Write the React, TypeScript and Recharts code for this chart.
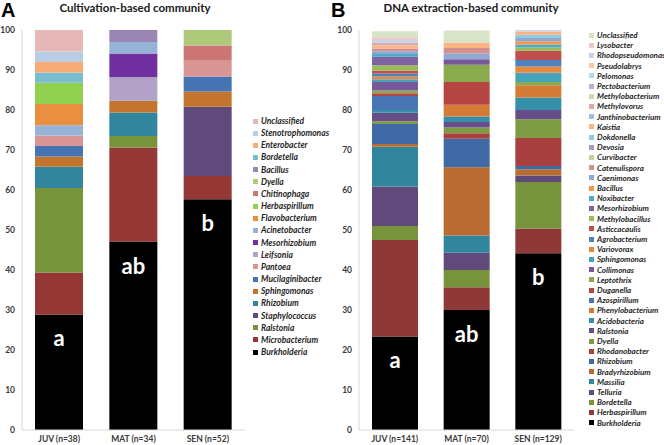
import React from 'react'
import { Bar, BarChart, LabelList, XAxis, YAxis } from 'recharts'

const font = 'Lato, "Open Sans", sans-serif'

// panel A - cultivation-based community
const cultStages = ['JUV (n=38)', 'MAT (n=34)', 'SEN (n=52)']
const cultLetters = ['a', 'ab', 'b']
const cultGenera = [
  'Burkholderia', 'Microbacterium', 'Ralstonia', 'Staphylococcus', 'Rhizobium', 'Sphingomonas',
  'Mucilaginibacter', 'Pantoea', 'Leifsonia', 'Mesorhizobium', 'Acinetobacter', 'Flavobacterium',
  'Herbaspirillum', 'Chitinophaga', 'Dyella', 'Bacillus', 'Bordetella', 'Enterobacter',
  'Stenotrophomonas', 'Unclassified',
]
const cultColors = [
  '#000000', '#953735', '#77933C', '#604A7B', '#31859C', '#C3752F',
  '#4674B2', '#D99694', '#B3A2C7', '#7030A0', '#95B3D7', '#E98F3F',
  '#92D050', '#CB7675', '#AFC97A', '#9A86B4', '#7BBDD0', '#F7AC78',
  '#B9CDE5', '#E6B9B8',
]
const cultJUV = [28.9, 10.5, 21.1, 0, 5.3, 2.6, 2.6, 2.6, 0, 0, 2.6, 5.3, 5.3, 0, 0, 0, 2.6, 2.6, 2.6, 5.4]
const cultMAT = [47.1, 23.5, 2.9, 0, 5.9, 2.9, 0, 0, 5.9, 5.9, 2.9, 0, 0, 0, 0, 3.0, 0, 0, 0, 0]
const cultSEN = [57.7, 5.8, 0, 17.3, 0, 3.8, 3.8, 3.9, 0, 0, 0, 0, 0, 3.8, 3.9, 0, 0, 0, 0, 0]

// panel B - DNA extraction-based community
const dnaStages = ['JUV (n=141)', 'MAT (n=70)', 'SEN (n=129)']
const dnaLetters = ['a', 'ab', 'b']
const dnaGenera = [
  'Burkholderia', 'Herbaspirillum', 'Bordetella', 'Telluria', 'Massilia', 'Bradyrhizobium',
  'Rhizobium', 'Rhodanobacter', 'Dyella', 'Ralstonia', 'Acidobacteria', 'Phenylobacterium',
  'Azospirillum', 'Duganella', 'Leptothrix', 'Collimonas', 'Sphingomonas', 'Variovorax',
  'Agrobacterium', 'Asticcacaulis', 'Methylobacillus', 'Mesorhizobium', 'Noxibacter', 'Bacillus',
  'Caenimonas', 'Catenulispora', 'Curvibacter', 'Devosia', 'Dokdonella', 'Kaistia',
  'Janthinobacterium', 'Methylovorus', 'Methylobacterium', 'Pectobacterium', 'Pelomonas',
  'Pseudolabrys', 'Rhodopseudomonas', 'Lysobacter', 'Unclassified',
]
const dnaColors = [
  '#000000', '#8E3937', '#77933C', '#5F4A7B', '#31859C', '#B86C32',
  '#3F6AA5', '#A8403F', '#7E9C44', '#684E88', '#358FA8', '#D47C36',
  '#4876B5', '#B34542', '#8AAA4E', '#77599A', '#45A3BE', '#E8883E',
  '#4F81BD', '#C0504D', '#9BBB59', '#8064A2', '#4BACC6', '#F79646',
  '#8FA9D4', '#D4908E', '#BDD39A', '#A998C2', '#8ECCDD', '#FBB584',
  '#A7BCDD', '#DBA9A8', '#CCDDB3', '#BCB0D0', '#B0DCE7', '#FAC8A7',
  '#C8D3E8', '#EBCACA', '#D8E4C8',
]
const dnaJUV = [
  23.4, 24.1, 3.5, 9.9, 9.9, 0.7, 5.0, 0, 0.7, 2.1, 0.7, 0, 3.5, 0.7, 0.7, 2.1, 0.7, 0.7,
  0.7, 0.7, 1.4, 2.1, 0.7, 0, 0.7, 0.7, 0, 0, 0, 0.7, 0, 0.7, 0, 0, 0, 0, 0.7, 0.7, 1.5,
]
const dnaMAT = [
  30.0, 5.7, 4.3, 4.3, 4.3, 17.1, 7.1, 1.4, 1.4, 1.4, 1.4, 2.9, 0, 5.7, 4.3, 1.4, 0, 0,
  0, 0, 0, 0, 0, 0, 1.4, 1.4, 0, 0, 0, 1.4, 0, 0, 0, 0, 0, 0, 0, 0, 3.0,
]
const dnaSEN = [
  44.2, 6.2, 11.6, 1.6, 0, 1.6, 0.8, 7.0, 4.7, 2.3, 3.1, 3.1, 0, 0, 0.8, 0, 2.3, 1.6,
  1.6, 2.3, 0.8, 0, 0.8, 0.8, 0.8, 0, 0, 0, 0.8, 0.8, 0, 0, 0, 0, 0, 0, 0.8, 0, 0,
]

const yTicks = [0, 10, 20, 30, 40, 50, 60, 70, 80, 90, 100]

function buildRows(stages: string[], letters: string[], genera: string[], series: number[][]) {
  return stages.map((stage, i) => {
    const row: Record<string, string | number> = { stage, letter: letters[i] }
    genera.forEach((g, j) => {
      row[g] = series[i][j]
    })
    return row
  })
}

function LetterLabel(props: any) {
  const { x, y, width, value } = props
  return (
    <text x={Number(x) + Number(width) / 2} y={Number(y) + 32} textAnchor='middle' fill='#ffffff'
      fontSize={22} fontWeight={700} fontFamily={font}>
      {value}
    </text>
  )
}

interface PanelProps {
  left: number
  width: number
  yAxisWidth: number
  rightMargin: number
  barSize: number
  rows: Record<string, string | number>[]
  genera: string[]
  colors: string[]
}

function StackPanel({ left, width, yAxisWidth, rightMargin, barSize, rows, genera, colors }: PanelProps) {
  const tickStyle = { fontSize: 8.5, fontWeight: 700, fill: '#3a3a3a', fontFamily: font }
  return (
    <div style={{ position: 'absolute', left, top: 0 }}>
      <BarChart width={width} height={445} data={rows} margin={{ top: 30, right: rightMargin, left: 0, bottom: 0 }}
        barSize={barSize}>
        <XAxis dataKey='stage' height={15} tickLine={false} tickSize={4} tickMargin={2}
          axisLine={{ stroke: '#d9d9d9' }} tick={tickStyle} interval={0} />
        <YAxis width={yAxisWidth} domain={[0, 100]} ticks={yTicks} tickLine={false} tickSize={4} tickMargin={3}
          axisLine={{ stroke: '#d9d9d9' }} tick={tickStyle} allowDataOverflow />
        {genera.map((g, i) => (
          <Bar key={g} dataKey={g} stackId='s' fill={colors[i]} isAnimationActive={false}>
            {i === 0 && <LabelList dataKey='letter' content={LetterLabel} />}
          </Bar>
        ))}
      </BarChart>
    </div>
  )
}

interface LegendProps {
  x: number
  y0: number
  step: number
  size: number
  genera: string[]
  colors: string[]
}

function LegendList({ x, y0, step, size, genera, colors }: LegendProps) {
  const items = genera.map((g, i) => ({ g, c: colors[i] })).reverse()
  return (
    <>
      {items.map((it, i) => (
        <div key={it.g} style={{
          position: 'absolute', left: x, top: y0 + i * step - 5, height: 10, display: 'flex', alignItems: 'center',
          fontFamily: font, fontSize: size, fontWeight: 700, fontStyle: 'italic', color: '#262626', whiteSpace: 'nowrap',
        }}>
          <span style={{ display: 'inline-block', width: 5, height: 5, background: it.c, marginRight: 3 }} />
          <span>{it.g}</span>
        </div>
      ))}
    </>
  )
}

const cultRows = buildRows(cultStages, cultLetters, cultGenera, [cultJUV, cultMAT, cultSEN])
const dnaRows = buildRows(dnaStages, dnaLetters, dnaGenera, [dnaJUV, dnaMAT, dnaSEN])

export default function App() {
  const titleStyle: React.CSSProperties = {
    position: 'absolute', top: 1, fontFamily: font, fontWeight: 700, fontSize: 11.5, color: '#1a1a1a',
    transform: 'translateX(-50%)', whiteSpace: 'nowrap', lineHeight: '13px',
  }
  const letterStyle: React.CSSProperties = {
    position: 'absolute', top: 0, fontFamily: 'Liberation Sans, Arial, sans-serif', fontWeight: 700, fontSize: 20,
    color: '#000', lineHeight: '20px',
  }
  return (
    <div style={{ position: 'absolute', left: 0, top: 0, width: 664, height: 445, background: '#fff', overflow: 'hidden' }}>
      <div style={{ ...letterStyle, left: 1 }}>A</div>
      <div style={{ ...titleStyle, left: 135 }}>Cultivation-based community</div>
      <div style={{ ...letterStyle, left: 331 }}>B</div>
      <div style={{ ...titleStyle, left: 471 }}>DNA extraction-based community</div>

      <StackPanel left={0} width={250} yAxisWidth={22} rightMargin={5} barSize={48}
        rows={cultRows} genera={cultGenera} colors={cultColors} />
      <StackPanel left={330} width={250} yAxisWidth={29} rightMargin={6} barSize={46}
        rows={dnaRows} genera={dnaGenera} colors={dnaColors} />

      <LegendList x={253} y0={121} step={12.16} size={8.5} genera={cultGenera} colors={cultColors} />
      <LegendList x={589} y0={35} step={10.2} size={8} genera={dnaGenera} colors={dnaColors} />
    </div>
  )
}
